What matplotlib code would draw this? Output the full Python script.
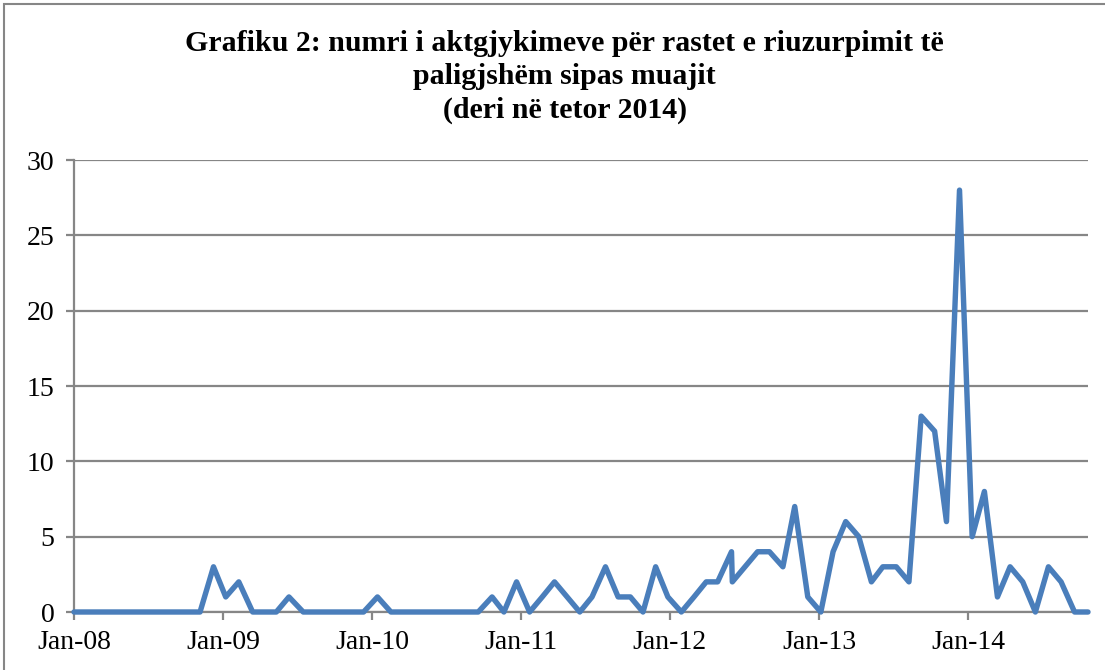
import matplotlib
matplotlib.use("Agg")
import matplotlib.pyplot as plt
import matplotlib.dates as mdates
import matplotlib.patches as mpatches
import pandas as pd

# judgment dates and number of judgments
dates = [
    "2008-01-01", "2008-02-01", "2008-03-01", "2008-04-01", "2008-05-01",
    "2008-06-01", "2008-07-01", "2008-08-01", "2008-09-01", "2008-10-01",
    "2008-11-05", "2008-12-08", "2009-01-07", "2009-02-08", "2009-03-14",
    "2009-04-12", "2009-05-11", "2009-06-11", "2009-07-16", "2009-08-14",
    "2009-09-13", "2009-10-13", "2009-11-12", "2009-12-11", "2010-01-14",
    "2010-02-16", "2010-03-18", "2010-04-18", "2010-05-18", "2010-06-18",
    "2010-07-18", "2010-08-18", "2010-09-18", "2010-10-22", "2010-11-20",
    "2010-12-21", "2011-01-22", "2011-02-22", "2011-03-24", "2011-04-24",
    "2011-05-25", "2011-06-24", "2011-07-27", "2011-08-27", "2011-09-26",
    "2011-10-27", "2011-11-27", "2011-12-27", "2012-01-29", "2012-02-29",
    "2012-03-30", "2012-04-27", "2012-05-31", "2012-06-02", "2012-07-03",
    "2012-08-03", "2012-09-01", "2012-10-04", "2012-11-02", "2012-12-04",
    "2013-01-05", "2013-02-04", "2013-03-07", "2013-04-08", "2013-05-09",
    "2013-06-06", "2013-07-09", "2013-08-09", "2013-09-08", "2013-10-11",
    "2013-11-09", "2013-12-11", "2014-01-11", "2014-02-10", "2014-03-14",
    "2014-04-14", "2014-05-15", "2014-06-15", "2014-07-17", "2014-08-17",
    "2014-09-19", "2014-10-22",
]
values = [
    0, 0, 0, 0, 0,
    0, 0, 0, 0, 0,
    0, 3, 1, 2, 0,
    0, 0, 1, 0, 0,
    0, 0, 0, 0, 1,
    0, 0, 0, 0, 0,
    0, 0, 0, 1, 0,
    2, 0, 1, 2, 1,
    0, 1, 3, 1, 1,
    0, 3, 1, 0, 1,
    2, 2, 4, 2, 3,
    4, 4, 3, 7, 1,
    0, 4, 6, 5, 2,
    3, 3, 2, 13, 12,
    6, 28, 5, 8, 1,
    3, 2, 0, 3, 2,
    0, 0,
]
tick_years = [2008, 2009, 2010, 2011, 2012, 2013, 2014]
y_ticks = [0, 5, 10, 15, 20, 25, 30]
title = ("Grafiku 2: numri i aktgjykimeve për rastet e riuzurpimit të\n"
         "paligjshëm sipas muajit\n"
         "(deri në tetor 2014)")

x = pd.to_datetime(dates)
grid_col = "#868686"

plt.rcParams["font.family"] = ["Liberation Serif", "DejaVu Serif"]

fig = plt.figure(figsize=(11.05, 6.7), dpi=100)
ax = fig.add_axes([74 / 1105, 58 / 670, 1014 / 1105, 452 / 670])

ax.plot(x, values, color="#4a7ebb", lw=3.9, solid_joinstyle="round",
        solid_capstyle="round", clip_on=False, zorder=3)

ax.set_ylim(0, 30)
ax.set_yticks(y_ticks)
ax.set_xlim(pd.Timestamp("2008-01-01"), x[-1])
ax.set_xticks([pd.Timestamp(f"{yr}-01-01") for yr in tick_years])
ax.xaxis.set_major_formatter(mdates.DateFormatter("%b-%y"))

ax.grid(axis="y", color=grid_col, lw=1.6)
ax.set_axisbelow(True)
for side in ["top", "right"]:
    ax.spines[side].set_visible(False)
for side in ["left", "bottom"]:
    ax.spines[side].set_color(grid_col)
    ax.spines[side].set_linewidth(1.6)

ax.tick_params(axis="both", colors=grid_col, labelcolor="black",
               labelsize=20, length=6, width=1.6, direction="out")
ax.tick_params(axis="y", pad=8)
ax.tick_params(axis="x", pad=7)

fig.text(0.511, 1 - 77 / 670, title, ha="center", va="center",
         fontsize=21.5, fontweight="bold", linespacing=1.32)

# outer chart frame
frame = mpatches.Rectangle((4, -20), 1200, 686, transform=None, fill=False,
                           ec=grid_col, lw=1.5)
fig.patches.append(frame)

fig.savefig("out.png", dpi=100)
